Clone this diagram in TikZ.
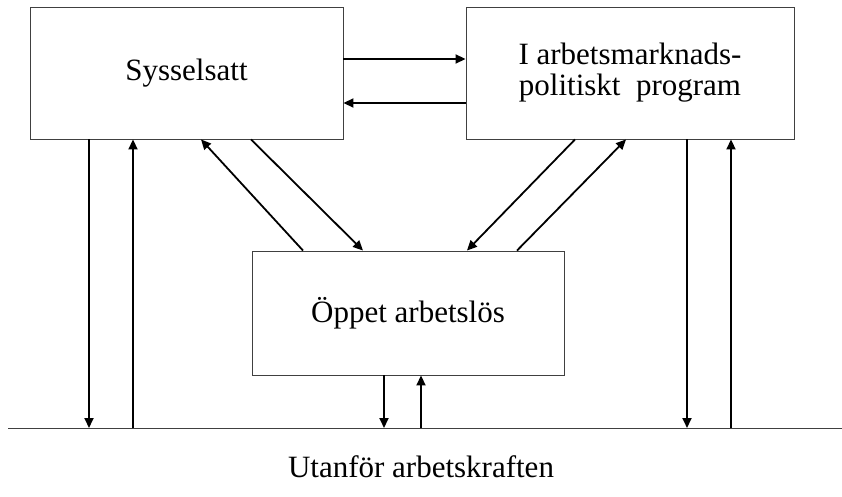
\documentclass[tikz,border=0pt]{standalone}
\usepackage{fontspec}
\setmainfont{Liberation Serif}
\usetikzlibrary{arrows.meta,calc}
\begin{document}
\begin{tikzpicture}[x=1pt,y=-1pt,
  box/.style={draw=black!75,line width=0.9pt,rectangle,inner sep=0pt,align=center,
    font=\fontsize{31}{31}\selectfont},
  arr/.style={line width=1.8pt,-{Triangle[length=10pt,width=9pt]}},
  lbl/.style={font=\fontsize{31}{31}\selectfont}]
\useasboundingbox (0,0) rectangle (842,497);
\node[box,minimum width=313pt,minimum height=132pt] (sys) at (186.5,73) {Sysselsatt};
\node[box,minimum width=328pt,minimum height=132pt] (prog) at (630,73) {I arbetsmarknads-\\politiskt\ \ program};
\node[box,minimum width=312pt,minimum height=124pt] (open) at (408,313) {Öppet arbetslös};
\coordinate (baseL) at (8,428);
\coordinate (baseR) at (842,428);
\draw[black!75,line width=0.9pt] (baseL) -- (baseR);
\node[lbl] (out) at (421,467) {Utanför arbetskraften};
% horizontal
\draw[arr] (sys.east |- 0,59) -- (prog.west |- 0,59);
\draw[arr] (prog.west |- 0,103) -- (sys.east |- 0,103);
% left verticals
\draw[arr] (89,0 |- sys.south) -- (89,0 |- baseL);
\draw[arr] (133,0 |- baseL) -- (133,0 |- sys.south);
% right verticals
\draw[arr] (687,0 |- prog.south) -- (687,0 |- baseL);
\draw[arr] (731,0 |- baseL) -- (731,0 |- prog.south);
% bottom
\draw[arr] (384,0 |- open.south) -- (384,0 |- baseL);
\draw[arr] (421,0 |- baseL) -- (421,0 |- open.south);
% diagonals left
\draw[arr] (303,0 |- open.north) -- (201,0 |- sys.south);
\draw[arr] (251,0 |- sys.south) -- (363,0 |- open.north);
% diagonals right
\draw[arr] (575,0 |- prog.south) -- (467,0 |- open.north);
\draw[arr] (517,0 |- open.north) -- (626,0 |- prog.south);
\end{tikzpicture}
\end{document}
